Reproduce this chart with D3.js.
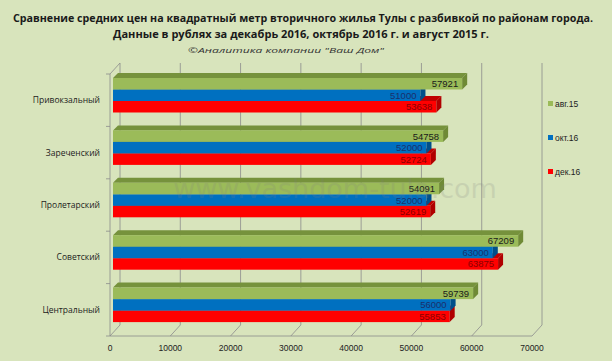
<!DOCTYPE html>
<html>
<head>
<meta charset="utf-8">
<script src="https://cdn.jsdelivr.net/npm/d3@7"></script>
<style>
  body { margin: 0; background: #d8e4bc; }
  svg { display: block; }
</style>
</head>
<body>
<div id="chart"></div>
<script>
// districts, top to bottom
var categories = ["Привокзальный", "Зареченский", "Пролетарский", "Советский", "Центральный"];
var aug15 = [57921, 54758, 54091, 67209, 59739];
var oct16 = [51000, 52000, 52000, 63000, 56000];
var dec16 = [53638, 52724, 52619, 63875, 55853];
var seriesNames = ["авг.15", "окт.16", "дек.16"];
var xTicks = [0, 10000, 20000, 30000, 40000, 50000, 60000, 70000];

var series = [
  {name: seriesNames[0], values: aug15, front: "#9bbb59", top: "#76923c", side: "#6f8a36", text: "#1a1a1a"},
  {name: seriesNames[1], values: oct16, front: "#0070c0", top: "#005a9e", side: "#004f8a", text: "#1b2f6b"},
  {name: seriesNames[2], values: dec16, front: "#ff0000", top: "#c00000", side: "#b00000", text: "#8a0000"}
];

var W = 612, H = 361;
var depth = {dx: 10, dy: -11};   // wall depth
var bd = {dx: 5, dy: -5};        // bar depth

var svg = d3.select("#chart").append("svg")
  .attr("width", W).attr("height", H);

svg.append("rect").attr("width", W).attr("height", H).attr("fill", "#d8e4bc");

// title
var title = svg.append("g").attr("font-family", "'Open Sans', 'DejaVu Sans', sans-serif").attr("text-anchor", "middle");
title.append("text").attr("x", 303).attr("y", 22)
  .attr("font-size", 11).attr("font-weight", "bold").attr("fill", "#1a1a1a")
  .attr("textLength", 580).attr("lengthAdjust", "spacingAndGlyphs")
  .text("Сравнение средних цен на квадратный  метр вторичного жилья Тулы с разбивкой по районам города.");
title.append("text").attr("x", 301).attr("y", 38)
  .attr("font-size", 11).attr("font-weight", "bold").attr("fill", "#1a1a1a")
  .attr("textLength", 376).attr("lengthAdjust", "spacingAndGlyphs")
  .text("Данные в рублях  за декабрь 2016, октябрь 2016 г. и август 2015 г.");
title.append("text").attr("x", 286).attr("y", 53)
  .attr("font-size", 8).attr("font-style", "italic").attr("fill", "#333")
  .attr("textLength", 196).attr("lengthAdjust", "spacingAndGlyphs")
  .text("©Аналитика компании \"Ваш Дом\"");

// scales
var x = d3.scaleLinear().domain([0, 70000]).range([110, 532]);
var y = d3.scaleBand().domain(categories).range([74, 336]).paddingInner(0);
var ys = d3.scaleBand().domain(seriesNames).range([4, 38.5]);

var plot = svg.append("g");

// back wall gridlines
plot.selectAll(".grid").data(xTicks).enter().append("line")
  .attr("x1", d => x(d) + depth.dx).attr("x2", d => x(d) + depth.dx)
  .attr("y1", 74 + depth.dy).attr("y2", 336 + depth.dy)
  .attr("stroke", "#8c8c8c").attr("stroke-width", 0.8);

// floor lines
plot.selectAll(".floor").data(xTicks).enter().append("line")
  .attr("x1", d => x(d)).attr("x2", d => x(d) + depth.dx)
  .attr("y1", 336).attr("y2", 336 + depth.dy)
  .attr("stroke", "#8c8c8c").attr("stroke-width", 0.8);
plot.append("line").attr("x1", x(0)).attr("x2", x(70000)).attr("y1", 336).attr("y2", 336)
  .attr("stroke", "#8c8c8c").attr("stroke-width", 0.8);

// left wall
plot.append("line").attr("x1", x(0)).attr("x2", x(0)).attr("y1", 74).attr("y2", 336)
  .attr("stroke", "#8c8c8c").attr("stroke-width", 0.8);
plot.append("line").attr("x1", x(0)).attr("x2", x(0) + depth.dx).attr("y1", 74).attr("y2", 74 + depth.dy)
  .attr("stroke", "#8c8c8c").attr("stroke-width", 0.8);
var bounds = categories.map(c => y(c)).concat([336]);
plot.selectAll(".ytick").data(bounds).enter().append("line")
  .attr("x1", x(0) - 4).attr("x2", x(0)).attr("y1", d => d).attr("y2", d => d)
  .attr("stroke", "#8c8c8c").attr("stroke-width", 0.8);

// x tick labels
plot.selectAll(".xlab").data(xTicks).enter().append("text")
  .attr("x", d => x(d)).attr("y", 351)
  .attr("text-anchor", "middle").attr("font-family", "'Liberation Sans', Arial, sans-serif")
  .attr("font-size", 8.5).attr("fill", "#222")
  .text(d => d);

// category labels
plot.selectAll(".ylab").data(categories).enter().append("text")
  .attr("x", 100).attr("y", d => y(d) + y.bandwidth() / 2 + 3)
  .attr("text-anchor", "end").attr("font-family", "'Open Sans', 'DejaVu Sans', sans-serif")
  .attr("font-size", 8.5).attr("fill", "#222")
  .text(d => d);

// watermark (faint, behind the value labels)
svg.append("text").attr("x", 335).attr("y", 198).attr("text-anchor", "middle")
  .attr("font-family", "'DejaVu Sans', sans-serif").attr("font-size", 27)
  .attr("fill", "#808080").attr("opacity", 0.18)
  .text("www.vashdom-tula.com");

// 3D bars, drawn bottom series first so upper bars cover the tops
var x0 = x(0) + 3;
var h = ys.bandwidth();
categories.forEach(function(cat, i) {
  var g = plot.append("g");
  series.slice().reverse().forEach(function(s) {
    var v = s.values[i];
    var x1 = x(v) + 3;
    var yt = y(cat) + ys(s.name);
    g.append("path")
      .attr("d", "M" + x0 + "," + yt + "L" + (x0 + bd.dx) + "," + (yt + bd.dy) +
        "L" + (x1 + bd.dx) + "," + (yt + bd.dy) + "L" + x1 + "," + yt + "Z")
      .attr("fill", s.top);
    g.append("rect").attr("x", x0).attr("y", yt).attr("width", x1 - x0).attr("height", h)
      .attr("fill", s.front);
    g.append("path")
      .attr("d", "M" + x1 + "," + yt + "L" + (x1 + bd.dx) + "," + (yt + bd.dy) +
        "L" + (x1 + bd.dx) + "," + (yt + h + bd.dy) + "L" + x1 + "," + (yt + h) + "Z")
      .attr("fill", s.side);
    g.append("text")
      .attr("x", x1 - 4).attr("y", yt + h / 2 + 3.5)
      .attr("text-anchor", "end").attr("font-family", "'Liberation Sans', Arial, sans-serif")
      .attr("font-size", 9.5).attr("fill", s.text)
      .text(v);
  });
});

// legend
var legY = [104, 138, 172];
var leg = svg.selectAll(".leg").data(series).enter().append("g")
  .attr("transform", (d, i) => "translate(548," + legY[i] + ")");
leg.append("rect").attr("x", 0).attr("y", -3).attr("width", 5).attr("height", 5)
  .attr("fill", d => d.front);
leg.append("text").attr("x", 7).attr("y", 3)
  .attr("font-family", "'Liberation Sans', Arial, sans-serif").attr("font-size", 8.5)
  .attr("fill", "#222").text(d => d.name);
</script>
</body>
</html>
